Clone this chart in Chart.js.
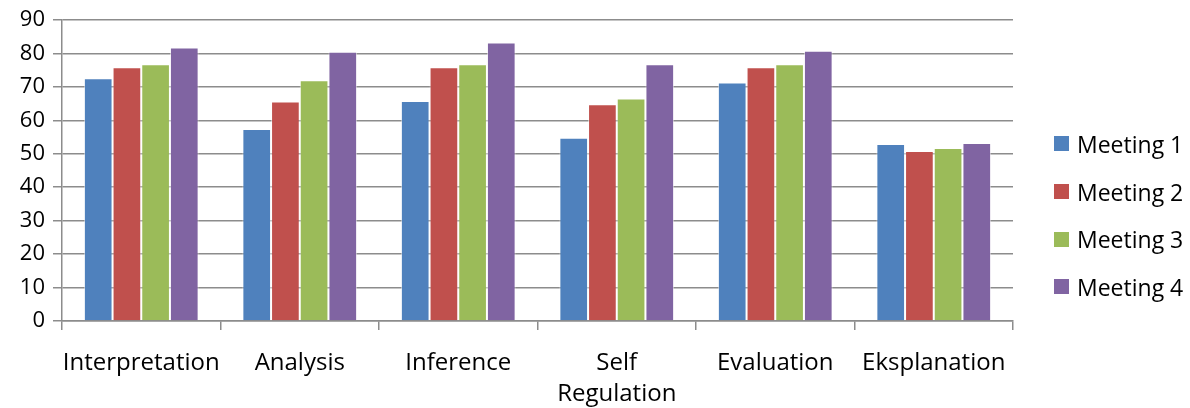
<!DOCTYPE html>
<html>
<head>
<meta charset="utf-8">
<script src="https://cdn.jsdelivr.net/npm/chart.js@4"></script>
<style>
  html, body { margin: 0; padding: 0; background: #fff; }
  #wrap { position: relative; width: 1190px; height: 408px; }
  #lg { position: absolute; left: 1054px; top: 120px; font-family: 'Open Sans', sans-serif; font-size: 23px; color: #000; }
  #lg div { height: 47.7px; display: flex; align-items: center; white-space: nowrap; }
  #lg span.sw { display: inline-block; width: 15px; height: 15px; margin-right: 8px; }
</style>
</head>
<body>
<div id="wrap">
  <canvas id="c" width="1190" height="408"></canvas>
  <div id="lg"></div>
</div>
<script>
// categories + series
const categories = ['Interpretation', 'Analysis', 'Inference', ['Self', 'Regulation'], 'Evaluation', 'Eksplanation'];
const meeting1 = [72.6, 57.4, 65.8, 54.8, 71.3, 52.9];
const meeting2 = [75.9, 65.6, 75.9, 64.8, 75.9, 50.8];
const meeting3 = [76.8, 72.0, 76.8, 66.5, 76.8, 51.7];
const meeting4 = [81.8, 80.5, 83.3, 76.8, 80.8, 53.2];
const seriesNames = ['Meeting 1', 'Meeting 2', 'Meeting 3', 'Meeting 4'];
const seriesColors = ['#4F81BD', '#C0504D', '#9BBB59', '#8064A2'];

const FONT = "'Open Sans', sans-serif";
const gridCol = '#8c8c8c';

const series = [meeting1, meeting2, meeting3, meeting4];

// legend as html, right side
let h = '';
seriesNames.forEach((n, i) => {
  h += '<div><span class="sw" style="background:' + seriesColors[i] + '"></span>' + n + '</div>';
});
document.getElementById('lg').innerHTML = h;

new Chart(document.getElementById('c'), {
  type: 'bar',
  data: {
    labels: categories,
    datasets: series.map((d, i) => ({
      label: seriesNames[i],
      data: d,
      backgroundColor: seriesColors[i],
      borderColor: 'rgba(255,255,255,0.55)',
      borderWidth: 1,
      categoryPercentage: 0.724,
      barPercentage: 1.0
    }))
  },
  options: {
    responsive: false,
    animation: false,
    layout: { padding: { top: 20, right: 177, left: 0, bottom: 0 } },
    plugins: { legend: { display: false }, tooltip: { enabled: false } },
    scales: {
      x: {
        offset: true,
        grid: { offset: true, drawOnChartArea: false, drawTicks: true, tickLength: 9, color: gridCol, lineWidth: 1.5 },
        border: { color: gridCol, width: 1.5 },
        ticks: { color: '#000', font: { family: FONT, size: 24, lineHeight: 1.27 }, padding: 18, maxRotation: 0, autoSkip: false },
        afterFit: s => { s.height = 87; s.paddingLeft = 0; s.paddingRight = 0; }
      },
      y: {
        min: 0,
        max: 90,
        ticks: { stepSize: 10, color: '#000', font: { family: FONT, size: 22 }, padding: 8 },
        grid: { color: gridCol, tickLength: 9, lineWidth: 1.5 },
        border: { color: gridCol, width: 1.5 },
        afterFit: s => { s.width = 62; s.paddingTop = 0; s.paddingBottom = 0; }
      }
    }
  }
});
</script>
</body>
</html>
